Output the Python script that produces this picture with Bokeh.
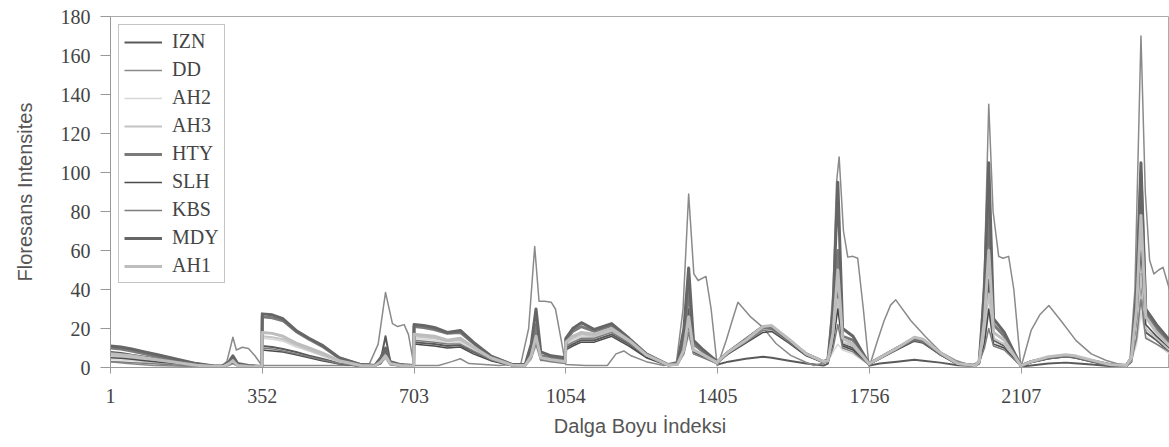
from bokeh.plotting import figure
from bokeh.models import Range1d, FixedTicker, Legend, LegendItem
from bokeh.embed import file_html
from bokeh.resources import INLINE

# x tick positions (Dalga Boyu Indeksi)
tick_values = [1, 352, 703, 1054, 1405, 1756, 2107]

# shared vertex grid (wavelength index) for the regular series
grid_x = [
    1, 25, 50, 80, 110, 150, 200, 240, 262, 275, 284, 295, 320, 351,
    352, 375, 400, 430, 460, 490, 530, 580, 612, 626, 637, 648, 672, 702,
    703, 725, 750, 780, 810, 840, 880, 930, 960, 974, 985, 996, 1020, 1053,
    1054, 1070, 1090, 1120, 1160, 1200, 1240, 1290, 1312, 1327, 1338, 1349, 1372, 1404,
    1405, 1430, 1470, 1510, 1530, 1570, 1610, 1650, 1660, 1672, 1683, 1694, 1718, 1755,
    1756, 1780, 1820, 1860, 1880, 1920, 1960, 2000, 2010, 2022, 2032, 2043, 2068, 2106,
    2107, 2130, 2170, 2210, 2230, 2270, 2310, 2350, 2362, 2374, 2384, 2395, 2420, 2450,
]

IZN = [
    8, 7.5, 6.5, 5.5, 4.5, 3, 1.3, 0.5, 0.6, 2, 4, 1.2, 0.6, 0.4,
    11, 10.5, 9.5, 8, 6, 4.5, 2.2, 0.8, 0.8, 4, 16, 3, 1, 0.6,
    13, 12.5, 12, 11, 11.5, 8, 4, 1, 1, 6, 18, 5, 4, 3,
    10, 12, 14, 14, 17, 12, 5.5, 1.2, 1.5, 10, 30, 9, 6, 2,
    1.5, 3, 4.5, 5.5, 5, 3.5, 2, 1, 2, 15, 40, 12, 10, 1.5,
    1, 2, 3, 4, 3.5, 2.5, 1.2, 0.8, 2, 15, 45, 14, 11, 0.8,
    0.5, 1, 2, 2.5, 2.2, 1.5, 0.8, 0.6, 3, 20, 45, 18, 14, 8,
]
AH2 = [
    4, 3.8, 3.4, 2.8, 2.2, 1.6, 0.8, 0.3, 0.4, 1, 1.8, 0.6, 0.3, 0.3,
    15, 14.5, 13.5, 10.5, 8.5, 6, 2.8, 0.9, 0.6, 2, 4.5, 1.2, 0.7, 0.5,
    15, 14.5, 14, 12.5, 13, 9, 4.2, 1, 0.9, 4, 11, 3.5, 3, 2,
    11, 14, 16, 15.5, 18.5, 13, 6, 1.1, 1.4, 7, 16, 7, 5, 2,
    2.8, 7.5, 13.5, 19.5, 20.5, 14, 6.8, 2.8, 3, 8, 12, 9, 7, 1.5,
    2, 5, 10, 15, 14, 7, 2, 1, 2.5, 12, 28, 13, 10, 0.8,
    1, 3, 5, 6, 5.5, 3.5, 1.5, 1, 3.5, 12, 28, 16, 12, 7,
]
AH3 = [
    6, 5.6, 5, 4.2, 3.4, 2.3, 1, 0.4, 0.5, 1.5, 2.5, 0.8, 0.4, 0.3,
    16, 15.5, 14.5, 11.5, 9, 6.5, 3, 1, 0.7, 2.5, 5, 1.5, 0.8, 0.5,
    16, 15.5, 15, 13.5, 14, 10, 4.5, 1.1, 1, 5, 13, 4, 3.5, 2.5,
    12, 15, 17, 16, 19, 13.5, 6.2, 1.2, 1.5, 8, 20, 8, 5.5, 2,
    3, 7.5, 13.5, 20, 21, 14, 6.8, 2.8, 3.2, 14, 35, 13, 11, 1.8,
    2, 5, 10, 15, 14, 7, 2, 1, 2.8, 16, 38, 15, 12, 0.9,
    1, 3, 5, 6, 5.5, 3.5, 1.5, 1, 4, 18, 48, 20, 15, 9,
]
HTY = [
    10, 9.5, 8.5, 7, 5.5, 4, 1.8, 0.7, 0.7, 2.5, 5, 1.5, 0.8, 0.5,
    26, 25.5, 24, 18.5, 14.5, 11, 4.8, 1.4, 1, 4, 8, 2.5, 1.2, 0.8,
    21, 20.5, 19.5, 17.5, 18, 12.5, 5.5, 1.4, 1.2, 8, 22, 6, 5, 4,
    14, 18.5, 21, 18.5, 21.5, 14.5, 6.8, 1.4, 1.8, 15, 40, 12, 8, 3,
    3, 8, 14, 20.5, 20.5, 13.5, 6.8, 2.8, 3.5, 22, 60, 16, 14, 2,
    2, 5, 10, 14.5, 13.5, 7, 2, 1, 3, 30, 80, 22, 16, 1,
    1, 3, 5, 6, 5.5, 3.5, 1.5, 1, 5, 35, 100, 28, 20, 12,
]
SLH = [
    5, 4.7, 4.2, 3.5, 2.8, 2, 1, 0.4, 0.5, 1.5, 3, 1, 0.5, 0.3,
    9, 8.5, 8, 6.5, 5, 3.5, 1.8, 0.6, 0.6, 2, 6, 1.5, 0.8, 0.5,
    12, 11.5, 11, 10, 10.5, 7, 3.5, 0.9, 0.9, 5, 14, 4, 3.5, 2.5,
    9, 11, 13, 13, 16, 11, 5, 1, 1.3, 8, 22, 8, 5.5, 2,
    2.5, 7, 12.5, 18, 18.5, 12.5, 6, 2.5, 3, 12, 30, 11, 9, 1.5,
    1.8, 4.5, 9, 13.5, 12.5, 6.5, 1.8, 0.9, 2.5, 12, 30, 12, 10, 0.8,
    0.8, 2.5, 4.5, 5.5, 5, 3, 1.2, 0.8, 4, 25, 60, 22, 16, 10,
]
KBS = [
    3, 2.8, 2.5, 2.2, 1.8, 1.3, 0.7, 0.3, 0.4, 1.2, 2, 0.8, 0.4, 0.3,
    10, 9.5, 8.5, 7, 5.5, 4, 2, 0.7, 0.7, 2.5, 7, 2, 0.8, 0.5,
    14, 13.5, 13, 12, 12, 8.5, 4, 1, 1, 5, 12, 4, 3, 2,
    11, 13, 15, 15, 18, 12.5, 6, 1.2, 1.5, 7, 18, 7, 5, 2,
    2.5, 7.5, 13, 19, 19.5, 13, 6.5, 2.6, 3, 10, 22, 10, 8, 1.5,
    1.8, 4.5, 9.5, 14, 13, 6.5, 1.8, 0.9, 2.5, 10, 20, 11, 9, 0.8,
    0.8, 2.5, 4.5, 5.5, 5, 3, 1.2, 0.8, 4, 15, 35, 15, 12, 8,
]
MDY = [
    11, 10.5, 9.5, 8, 6.5, 4.5, 2, 0.8, 0.8, 3, 6, 2, 1, 0.5,
    27.5, 27, 25, 19, 15, 11.5, 5, 1.5, 1, 5, 10, 3, 1.5, 1,
    22, 21.5, 20.5, 18, 19, 13, 6, 1.5, 1.5, 12, 30, 8, 6, 5,
    15, 20, 23, 19.5, 22.5, 15, 7, 1.5, 2, 20, 51, 14, 9, 3,
    3, 8, 14.5, 21, 21, 14, 7, 3, 4, 30, 95, 20, 16, 2,
    2, 5, 10, 15, 14, 7, 2, 1, 3, 40, 105, 25, 18, 1,
    1, 3, 5, 6, 5.5, 3.5, 1.5, 1, 5, 40, 105, 30, 22, 14,
]
AH1 = [
    7, 6.5, 6, 5, 4, 2.7, 1.2, 0.5, 0.5, 2, 3.5, 1, 0.5, 0.4,
    18, 17.5, 16, 12.5, 10, 7.5, 3.5, 1, 0.8, 3, 6, 2, 1, 0.6,
    17, 16.5, 16, 14, 15, 10.5, 5, 1.2, 1, 6, 16, 5, 4, 3,
    13, 16, 18, 17, 20, 14, 6.5, 1.3, 1.6, 9, 26, 9, 6.5, 2.5,
    3, 8, 14, 21, 21.5, 14.5, 7, 3, 3.5, 18, 50, 15, 12, 2,
    2, 5, 10, 15.5, 14.5, 7.5, 2, 1, 3, 24, 60, 18, 14, 1,
    1, 3, 5.5, 6.5, 6, 3.8, 1.6, 1, 5, 30, 78, 26, 18, 11,
]

# DD: the series with the strong scatter peaks and broad later humps
DD_x = [
    1, 40, 100, 200, 255, 270, 278, 284, 292, 306, 320, 335, 351,
    352, 450, 560, 600, 620, 637, 653, 665, 680, 690, 702,
    703, 760, 790, 810, 830, 900, 950, 968, 982, 992, 1005, 1020, 1030, 1045, 1053,
    1054, 1100, 1150, 1170, 1188, 1205, 1240, 1280, 1310, 1325, 1338, 1350, 1360, 1378, 1390, 1404,
    1405, 1425, 1440, 1452, 1482, 1509, 1540, 1574, 1609, 1628, 1660, 1672, 1680, 1686, 1696, 1706, 1718, 1729, 1742, 1755,
    1756, 1775, 1790, 1805, 1817, 1852, 1887, 1921, 1956, 1991, 2010, 2022, 2032, 2042, 2055, 2065, 2078, 2090, 2106,
    2107, 2130, 2150, 2171, 2199, 2234, 2269, 2304, 2343, 2358, 2370, 2384, 2394, 2404, 2414, 2425, 2435, 2450,
]
DD_y = [
    3, 2, 1, 0.5, 0.5, 3, 10, 15.5, 9, 10.4, 9.7, 6, 1,
    1, 1, 1, 2, 12, 38.5, 22.5, 21, 22, 17, 2,
    1, 1, 3, 4.5, 2, 1, 2, 20, 62, 34, 34, 33.5, 30, 12, 2,
    1.5, 1, 1, 7, 8.5, 6, 3, 1, 3, 30, 89, 48, 44.6, 46.7, 30, 1,
    1, 14, 25, 33.5, 25.8, 20.7, 12.3, 6.2, 2.7, 1, 3, 40, 95, 108, 70, 56.6, 57, 56, 30, 1,
    0.5, 14, 24, 32, 34.7, 24, 15.5, 7.9, 3.6, 1, 3, 50, 135, 80, 57, 56, 57, 40, 1,
    0.5, 19, 27, 31.8, 24, 13.8, 7, 3.6, 1, 2, 40, 170, 90, 55, 48, 50, 51.4, 40,
]

names = ["IZN", "DD", "AH2", "AH3", "HTY", "SLH", "KBS", "MDY", "AH1"]
colors = ["#5a5a5a", "#8a8a8a", "#d8d8d8", "#c4c4c4", "#7a7a7a", "#4a4a4a", "#7d7d7d", "#666666", "#bdbdbd"]
widths = [2, 1.5, 1.5, 2, 3, 1.5, 1.5, 3, 3]

series = {"IZN": IZN, "AH2": AH2, "AH3": AH3, "HTY": HTY, "SLH": SLH,
          "KBS": KBS, "MDY": MDY, "AH1": AH1}

p = figure(width=1169, height=447, output_backend="svg", toolbar_location=None,
           x_range=Range1d(1, 2450), y_range=Range1d(0, 180),
           min_border_left=110, min_border_right=0, min_border_top=16, min_border_bottom=80)

items = []
for name, col, w in zip(names, colors, widths):
    if name == "DD":
        r = p.line(DD_x, DD_y, line_color=col, line_width=w, line_join="round")
    else:
        r = p.line(grid_x, series[name], line_color=col, line_width=w, line_join="round")
    items.append(LegendItem(label=name, renderers=[r]))

legend = Legend(items=items, location="top_left")
legend.margin = 8
legend.padding = 5
legend.spacing = 5
legend.glyph_width = 38
legend.glyph_height = 20
legend.label_height = 20
legend.label_standoff = 10
legend.label_text_font = "Liberation Serif"
legend.label_text_font_size = "20px"
legend.label_text_color = "#444444"
legend.border_line_color = "#8a8a8a"
legend.border_line_width = 1
legend.background_fill_color = "white"
legend.background_fill_alpha = 1
p.add_layout(legend)

p.xgrid.visible = False
p.ygrid.visible = False
p.outline_line_color = "#aaaaaa"

p.xaxis.ticker = FixedTicker(ticks=tick_values)
p.yaxis.ticker = FixedTicker(ticks=list(range(0, 181, 20)))
for ax in (p.xaxis, p.yaxis):
    ax.axis_line_color = "#999999"
    ax.major_tick_line_color = "#999999"
    ax.minor_tick_line_color = None
    ax.major_tick_in = 0
    ax.major_label_text_font = "Liberation Serif"
    ax.major_label_text_font_size = "20px"
    ax.major_label_text_color = "#444444"
    ax.axis_label_text_font = "Liberation Sans"
    ax.axis_label_text_font_size = "20px"
    ax.axis_label_text_font_style = "normal"
    ax.axis_label_text_color = "#555555"

p.xaxis.major_tick_out = 6
p.xaxis.major_label_standoff = 15
p.xaxis.axis_label = "Dalga Boyu İndeksi"
p.xaxis.axis_label_standoff = 9
p.yaxis.major_tick_out = 10
p.yaxis.major_label_standoff = 10
p.yaxis.axis_label = "Floresans Intensites"
p.yaxis.axis_label_standoff = 22

open("out.html", "w").write(file_html(p, INLINE))
